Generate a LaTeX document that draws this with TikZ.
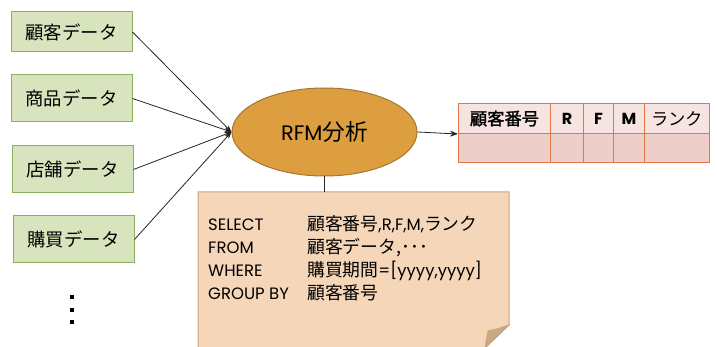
\documentclass[tikz,border=0pt]{standalone}
\usepackage{fontspec}
\setmainfont{Poppins}
\newfontfamily\cjk[Scale=1.08]{Noto Sans CJK JP}
\newfontfamily\cjkb[FakeBold=1.5,Scale=1.08]{Noto Sans CJK JP}
\usetikzlibrary{shapes.geometric,arrows.meta}
\definecolor{gfill}{RGB}{215,228,189}
\definecolor{gline}{RGB}{140,175,90}
\definecolor{efill}{RGB}{220,158,62}
\definecolor{eline}{RGB}{165,118,45}
\definecolor{tline}{RGB}{226,118,72}
\definecolor{thead}{RGB}{246,228,224}
\definecolor{trow}{RGB}{238,206,200}
\definecolor{nfill}{RGB}{246,214,184}
\definecolor{nline}{RGB}{200,165,122}
\definecolor{nflap}{RGB}{200,170,130}
\tikzset{
  databox/.style={draw=gline, fill=gfill, line width=1pt, minimum width=121pt, inner sep=0pt, font=\cjk\fontsize{17}{20}\selectfont},
  conn/.style={draw=black!85, line width=0.8pt},
  tip/.style={-{Stealth[length=7pt,width=5pt]}},
  hcell/.style={draw=tline, fill=thead, line width=1pt, anchor=north west, inner sep=0pt, minimum height=30pt, font=\fontsize{16}{18}\selectfont},
  rcell/.style={draw=tline, fill=trow, line width=1pt, anchor=north west, inner sep=0pt, minimum height=29pt},
}
\begin{document}
\begin{tikzpicture}[x=1pt,y=-1pt]
\useasboundingbox (0,0) rectangle (717,347);
\fill[white] (0,0) rectangle (717,347);
% note paper
\fill[nfill] (198,347) -- (198,192) -- (509,192) -- (509,325) -- (486,347) -- cycle;
\draw[nline, line width=1pt] (198,348) -- (198,192) -- (509,192) -- (509,325) -- (486,347);
\draw[nline, fill=nflap, line width=0.8pt] (509,325) .. controls (497,329) .. (488,331) .. controls (487,339) .. (485,347) -- (486,347) -- cycle;
\node[anchor=north west, inner sep=0pt, align=left] (sql) at (208,214.5) {\fontsize{16.5}{23}\selectfont
\begin{tabular}{@{}p{99pt}@{}l@{}}
SELECT & {\cjk 顧客番号},R,F,M,{\cjk ランク}\\
FROM & {\cjk 顧客データ,･･･}\\
WHERE & {\cjk 購買期間}=[yyyy,yyyy]\\
GROUP BY & {\cjk 顧客番号}
\end{tabular}};
\coordinate (notetop) at (324.5,192);
% data boxes
\node[databox, minimum height=40pt] (d1) at (71.5,32) {顧客データ};
\node[databox, minimum height=47pt] (d2) at (71.5,98.5) {商品データ};
\node[databox, minimum height=47pt] (d3) at (72.5,169.5) {店舗データ};
\node[databox, minimum height=47pt] (d4) at (73.5,239.5) {購買データ};
% ellipse
\node[ellipse, draw=eline, fill=efill, line width=1pt, minimum width=185pt, minimum height=88pt, inner sep=0pt, font=\fontsize{21}{24}\selectfont] (rfm) at (324.5,132) {RFM{\cjk 分析}};
% table
\node[hcell, minimum width=92pt] (h1) at (458,103) {\cjkb 顧客番号};
\node[hcell, minimum width=33pt] (h2) at (550,103) {\bfseries R};
\node[hcell, minimum width=30pt] (h3) at (583,103) {\bfseries F};
\node[hcell, minimum width=31pt] (h4) at (613,103) {\bfseries M};
\node[hcell, minimum width=65pt] (h5) at (644,103) {\cjk ランク};
\node[rcell, minimum width=92pt] (r1) at (458,133) {};
\node[rcell, minimum width=33pt] (r2) at (550,133) {};
\node[rcell, minimum width=30pt] (r3) at (583,133) {};
\node[rcell, minimum width=31pt] (r4) at (613,133) {};
\node[rcell, minimum width=65pt] (r5) at (644,133) {};
% connectors
\foreach \n in {d1,d2,d3,d4}{
  \draw[conn, tip] (\n.east) -- (rfm.west);
}
\draw[conn, -{Stealth[length=8pt,width=6pt]}] (rfm.east) -- (h1.south west);
\draw[conn] (rfm.south) -- (notetop);
% dots
\foreach \yy in {297,310,322}{
  \fill (70.3,\yy-1.7) rectangle +(3.4,3.4);
}
\end{tikzpicture}
\end{document}
